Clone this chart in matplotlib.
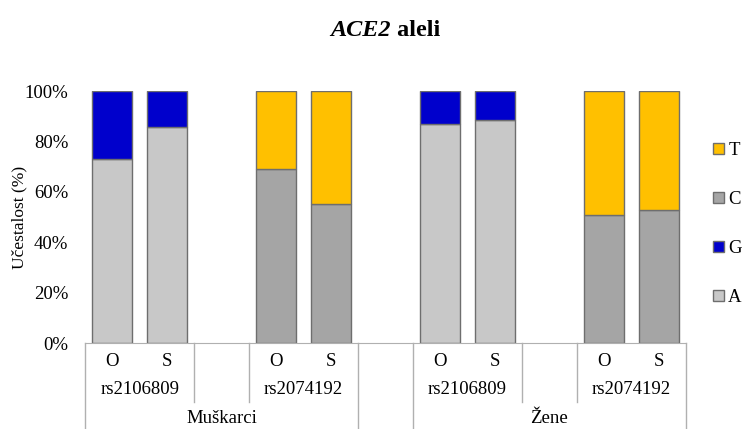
import numpy as np
import matplotlib.pyplot as plt
import matplotlib.transforms as mtrans
from matplotlib.patches import Patch

plt.rcParams['font.family'] = ['Liberation Serif', 'DejaVu Serif']

# data (share of each allele, %)
positions = [0, 1, 3, 4, 6, 7, 9, 10]
sample_labels = ['O', 'S', 'O', 'S', 'O', 'S', 'O', 'S']
snp_labels = ['rs2106809', 'rs2074192', 'rs2106809', 'rs2074192']
group_labels = ['Muškarci', 'Žene']
A = [73.0, 85.7, 0, 0, 86.9, 88.6, 0, 0]
G = [27.0, 14.3, 0, 0, 13.1, 11.4, 0, 0]
C = [0, 0, 68.9, 55.0, 0, 0, 50.8, 52.7]
T = [0, 0, 31.1, 45.0, 0, 0, 49.2, 47.3]

colors = {'A': '#c8c8c8', 'G': '#0000cc', 'C': '#a5a5a5', 'T': '#ffc000'}
edge = '#6e6e6e'
fs = 13.5

fig = plt.figure(figsize=(7.43, 4.29), dpi=100)
ax = fig.add_axes([85/743, 1-343/429, (686-85)/743, 252/429])

x = np.array(positions)
w = 0.73
bottom = np.zeros(len(x))
for name, vals in [('A', A), ('G', G), ('C', C), ('T', T)]:
    v = np.array(vals) / 100
    mask = v > 0
    ax.bar(x[mask], v[mask], w, bottom=bottom[mask], color=colors[name],
           edgecolor=edge, linewidth=1)
    bottom += v

ax.set_xlim(-0.5, 10.5)
ax.set_ylim(0, 1)
ticks = np.arange(0, 1.01, 0.2)
ax.set_yticks(ticks)
ax.set_yticklabels([f'{int(round(t*100))}%' for t in ticks], fontsize=fs)
ax.tick_params(axis='y', length=0, pad=12)
ax.set_xticks([])
for s in ['left', 'top', 'right']:
    ax.spines[s].set_visible(False)
ax.spines['bottom'].set_color('#b0b0b0')

ax.set_ylabel('Učestalost (%)', fontsize=12.5)
ax.yaxis.set_label_coords((27-85)/601, 0.5)

# multi-level category axis
tr = mtrans.blended_transform_factory(ax.transData, ax.transAxes)
line_kw = dict(color='#b0b0b0', lw=1, transform=tr, clip_on=False)
y_bot = -0.345
y_sub = -0.234
for xb in [-0.5, 4.5, 5.5, 10.5]:
    ax.plot([xb, xb], [0, y_bot], **line_kw)
for xb in [1.5, 2.5, 7.5, 8.5]:
    ax.plot([xb, xb], [0, y_sub], **line_kw)

for xp, lab in zip(positions, sample_labels):
    ax.text(xp, -0.075, lab, ha='center', va='center', fontsize=fs, transform=tr)
for xp, lab in zip([0.5, 3.5, 6.5, 9.5], snp_labels):
    ax.text(xp, -0.183, lab, ha='center', va='center', fontsize=fs, transform=tr)
for xp, lab in zip([2, 8], group_labels):
    ax.text(xp, -0.298, lab, ha='center', va='center', fontsize=fs, transform=tr)

# title: italic gene name + bold word
t1 = fig.text(385/743, 1-30/429, 'ACE2', ha='right', va='center', fontsize=17.5,
              fontweight='bold', fontstyle='italic')
t2 = fig.text(385/743, 1-30/429, ' aleli', ha='left', va='center', fontsize=17.5,
              fontweight='bold')
fig.canvas.draw()
r = fig.canvas.get_renderer()
w1 = t1.get_window_extent(r).width
w2 = t2.get_window_extent(r).width
shift = (w1 - w2) / 2 / 743
t1.set_x(385/743 + shift)
t2.set_x(385/743 + shift)

handles = [Patch(facecolor=colors[k], edgecolor=edge, label=k) for k in ['T', 'C', 'G', 'A']]
fig.legend(handles=handles, loc='center left', bbox_to_anchor=(702/743, 1-224/429),
           frameon=False, fontsize=fs, handlelength=0.55, handleheight=0.55,
           handletextpad=0.25, labelspacing=1.7, borderaxespad=0.2)

fig.savefig('out.png', dpi=100)
